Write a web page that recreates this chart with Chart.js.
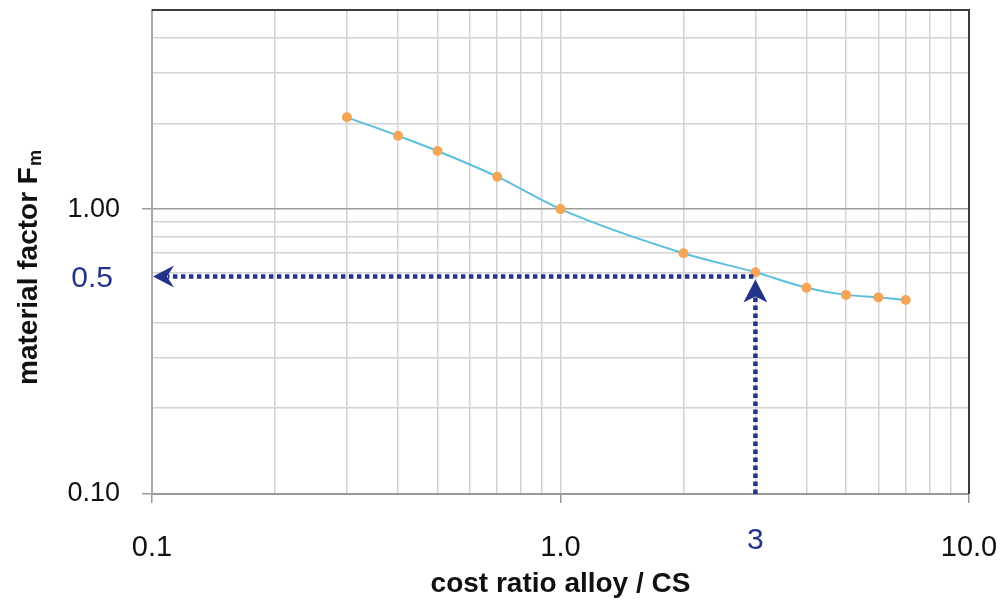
<!DOCTYPE html>
<html>
<head>
<meta charset="utf-8">
<script src="https://cdn.jsdelivr.net/npm/chart.js@4/dist/chart.umd.min.js"></script>
<style>
  html, body { margin: 0; padding: 0; background: #fff; }
  #wrap { width: 1002px; height: 604px; }
</style>
</head>
<body>
<div id="wrap"><canvas id="chart_canvas" width="1002" height="604"></canvas></div>
<script>
// data
const costRatio = [0.3, 0.4, 0.5, 0.7, 1.0, 2.0, 3.0, 4.0, 5.0, 6.0, 7.0];
const materialFactor = [2.10, 1.81, 1.60, 1.30, 1.00, 0.70, 0.60, 0.53, 0.50, 0.49, 0.48];

// grid / tick values
const xGridValues = [0.1, 0.2, 0.3, 0.4, 0.5, 0.6, 0.7, 0.8, 0.9, 1, 2, 3, 4, 5, 6, 7, 8, 9, 10];
const yGridValues = [0.1, 0.2, 0.3, 0.4, 0.6, 0.7, 0.8, 0.9, 1, 2, 3, 4, 5];
const xLabelTicks = [0.1, 1, 10];
const yLabelTicks = [0.1, 1];

// reading arrows
const markX = 3;
const markY = 0.58;
const markXLabel = '3';
const markYLabel = '0.5';

const navy = '#24338a';
const sans = "'Liberation Sans', Arial, sans-serif";

const annotations = {
  id: 'annotations',
  afterDatasetsDraw(chart) {
    const ctx = chart.ctx;
    const xs = chart.scales.x, ys = chart.scales.y;
    const a = chart.chartArea;
    const px = xs.getPixelForValue(markX);
    const py = ys.getPixelForValue(markY);

    ctx.save();
    // frame top / right
    ctx.strokeStyle = '#3c3c3c';
    ctx.lineWidth = 2;
    ctx.beginPath();
    ctx.moveTo(a.left, a.top);
    ctx.lineTo(a.right, a.top);
    ctx.lineTo(a.right, a.bottom);
    ctx.stroke();

    // dotted arrows
    ctx.strokeStyle = navy;
    ctx.lineWidth = 4.5;
    ctx.setLineDash([4.5, 3.5]);
    ctx.beginPath();
    ctx.moveTo(px - 2, py);
    ctx.lineTo(a.left + 16, py);
    ctx.moveTo(px, a.bottom);
    ctx.lineTo(px, py + 20);
    ctx.stroke();
    ctx.setLineDash([]);

    ctx.fillStyle = navy;
    // left arrow head
    ctx.beginPath();
    ctx.moveTo(a.left + 1, py);
    ctx.lineTo(a.left + 22, py - 11);
    ctx.lineTo(a.left + 15, py);
    ctx.lineTo(a.left + 22, py + 11);
    ctx.closePath();
    ctx.fill();
    // up arrow head
    ctx.beginPath();
    ctx.moveTo(px, py + 3);
    ctx.lineTo(px - 12, py + 26);
    ctx.lineTo(px, py + 20);
    ctx.lineTo(px + 12, py + 26);
    ctx.closePath();
    ctx.fill();

    // reading labels
    ctx.font = '30px ' + sans;
    ctx.textAlign = 'right';
    ctx.textBaseline = 'middle';
    ctx.fillText(markYLabel, 113, py + 2);
    ctx.textAlign = 'center';
    ctx.fillText(markXLabel, px, 541);

    // y axis title with subscript
    ctx.fillStyle = '#111';
    ctx.translate(29, 268);
    ctx.rotate(-Math.PI / 2);
    ctx.font = 'bold 28px ' + sans;
    const main = 'material factor F';
    const w1 = ctx.measureText(main).width;
    ctx.font = 'bold 18px ' + sans;
    const w2 = ctx.measureText('m').width;
    const start = -(w1 + w2) / 2;
    ctx.textAlign = 'left';
    ctx.font = 'bold 28px ' + sans;
    ctx.fillText(main, start, 0);
    ctx.font = 'bold 18px ' + sans;
    ctx.fillText('m', start + w1 + 1, 7);
    ctx.restore();
  }
};

const chart = new Chart(document.getElementById('chart_canvas'), {
  type: 'line',
  data: {
    datasets: [{
      data: costRatio.map((x, i) => ({ x: x, y: materialFactor[i] })),
      borderColor: '#5cbfdc',
      borderWidth: 2,
      backgroundColor: '#f5a458',
      pointBackgroundColor: '#f5a458',
      pointBorderWidth: 0,
      pointRadius: 5,
      cubicInterpolationMode: 'monotone',
      fill: false
    }]
  },
  options: {
    responsive: false,
    animation: false,
    layout: { padding: { top: 10, right: 33, left: 0, bottom: 0 } },
    plugins: { legend: { display: false }, tooltip: { enabled: false } },
    scales: {
      x: {
        type: 'logarithmic',
        min: 0.1,
        max: 10,
        afterBuildTicks: (s) => { s.ticks = xGridValues.map(v => ({ value: v })); },
        afterFit: (s) => { s.height = 110; s.paddingLeft = 0; s.paddingRight = 0; },
        ticks: {
          autoSkip: false,
          maxRotation: 0,
          padding: 28,
          color: '#111',
          font: { family: sans, size: 29 },
          callback: (v) => xLabelTicks.includes(v) ? v.toFixed(1) : ''
        },
        grid: {
          color: '#d3d3d3',
          lineWidth: 1.5,
          tickLength: 9,
          tickColor: (c) => (c.tick && xLabelTicks.includes(c.tick.value)) ? '#9a9a9a' : 'rgba(0,0,0,0)'
        },
        border: { color: '#9a9a9a', width: 2 },
        title: {
          display: true,
          text: 'cost ratio alloy / CS',
          color: '#111',
          font: { family: sans, size: 28, weight: 'bold' },
          padding: { top: 0, bottom: 3 }
        }
      },
      y: {
        type: 'logarithmic',
        min: 0.1,
        max: 5,
        afterBuildTicks: (s) => { s.ticks = yGridValues.map(v => ({ value: v })); },
        afterFit: (s) => { s.width = 152; s.paddingTop = 0; s.paddingBottom = 0; },
        ticks: {
          autoSkip: false,
          padding: 22,
          color: '#111',
          font: { family: sans, size: 27 },
          callback: (v) => yLabelTicks.includes(v) ? v.toFixed(2) : ''
        },
        grid: {
          color: (c) => (c.tick && c.tick.value === 1) ? '#9c9c9c' : '#d3d3d3',
          lineWidth: 1.5,
          tickLength: 10,
          tickColor: (c) => (c.tick && yLabelTicks.includes(c.tick.value)) ? '#9a9a9a' : 'rgba(0,0,0,0)'
        },
        border: { color: '#a8a8a8', width: 2 }
      }
    }
  },
  plugins: [annotations]
});
</script>
</body>
</html>
